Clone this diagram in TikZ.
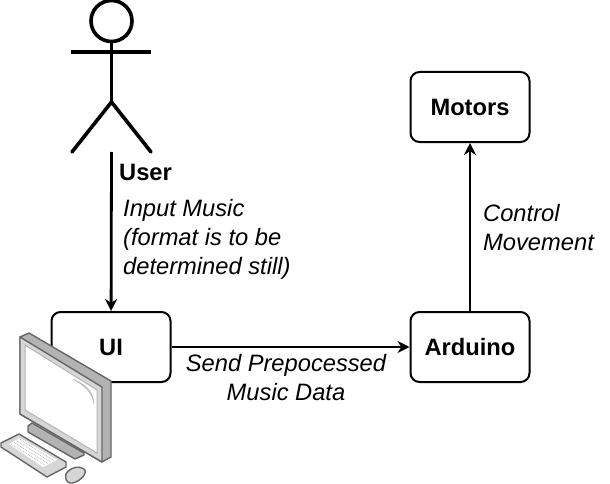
\documentclass[tikz,border=0pt]{standalone}
\usepackage{fontspec}
\setmainfont{Liberation Sans}
\usepackage{tikz}
\usetikzlibrary{arrows.meta}
\definecolor{pcedge}{HTML}{666666}
\definecolor{pcside}{HTML}{B3B3B3}
\definecolor{pcface}{HTML}{D6D6D6}
\tikzstyle{block} = [rectangle, rounded corners=9pt,
minimum width=119pt,
minimum height=70pt,
text centered,
draw=black,
line width=2pt,
fill=white,
font=\fontsize{23.7}{26}\selectfont\bfseries]
\tikzstyle{arrow} = [line width=2.8pt,-{Stealth[length=12pt,width=12pt]}]
\tikzstyle{note} = [align=center,inner sep=0pt,font=\fontsize{23.7}{29}\selectfont\itshape]
\tikzstyle{stick} = [line width=3.6pt,line cap=round]
\tikzstyle{pc} = [draw=pcedge,line width=1.4pt,line join=round,fill=pcface]

\begin{document}
\begin{tikzpicture}[x=1pt,y=-1pt]
				\useasboundingbox (0,0) rectangle (610,484);

				\node[block] (ui) at (111,347) {UI};
				\node[block] (arduino) at (470,347) {Arduino};
				\node[block] (motors) at (470,107) {Motors};

				% stick figure
				\node[circle,draw=black,line width=3.6pt,minimum size=41pt,inner sep=0pt] (head) at (111.5,21) {};
				\coordinate (hip) at (111.5,102);
				\coordinate (user) at (111.5,152);
				\draw[stick] (head) -- (hip);
				\draw[stick,line cap=butt] (71,52) -- (151,52);
				\draw[stick] (72,152) -- (hip) -- (151,152);
				\node[anchor=west,inner sep=0pt,font=\fontsize{23.7}{26}\selectfont\bfseries] (userlabel) at (119,172) {User};

				\draw[arrow] (user) -- (ui);
				\draw[arrow] (ui) -- (arduino);
				\draw[arrow] (arduino) -- (motors);

				\node[note,anchor=north west,align=left] (input) at (123,199) {Input Music\\(format is to be\\determined still)};
				\node[note,anchor=north west,align=left] (control) at (483,204) {Control\\Movement};
				\node[note] (send) at (286,378) {Send Prepocessed\\Music Data};

				% computer
				\draw[pc,fill=pcside] (28,426) -- (32,423) -- (84,453) -- (84,455) -- (75,459) -- (28,432) -- cycle;
				\draw[pc,fill=pcside] (20,337) -- (29,333) -- (111,381) -- (111,457) -- (102,462) -- (20,414) -- cycle;
				\draw[pc,fill=pcface] (20,337) -- (102,387) -- (102,462) -- (20,414) -- cycle;
				\draw[draw=pcside,fill=white,line width=1pt] (25,345) -- (97,390) -- (97,453) -- (25,410) -- cycle;
				\draw[draw=pcside,fill=pcside!50,line width=.5pt] (73,379) .. controls (88,386) and (93,392) .. (94,404) .. controls (92,392) and (85,386) .. (73,379);
				\draw[pc] (1,443) -- (19,434) -- (66,462) -- (66,467) -- (47,477) -- (1,447) -- cycle;
				\draw[draw=none,fill=white] (9,444) -- (20,438) -- (57,460) -- (43,467) -- cycle;
				\foreach \k in {0,1,2,3}
					\draw[pcside,line width=.8pt,densely dotted] (11+3*\k,444-1.5*\k) -- (45+3*\k,465-1.5*\k);
				\draw[pc] (66,474) .. controls (70,467) and (80,465) .. (85,470) .. controls (87,476) and (76,484) .. (70,483) .. controls (66,482) and (65,478) .. (66,474);
\end{tikzpicture}
\end{document}
